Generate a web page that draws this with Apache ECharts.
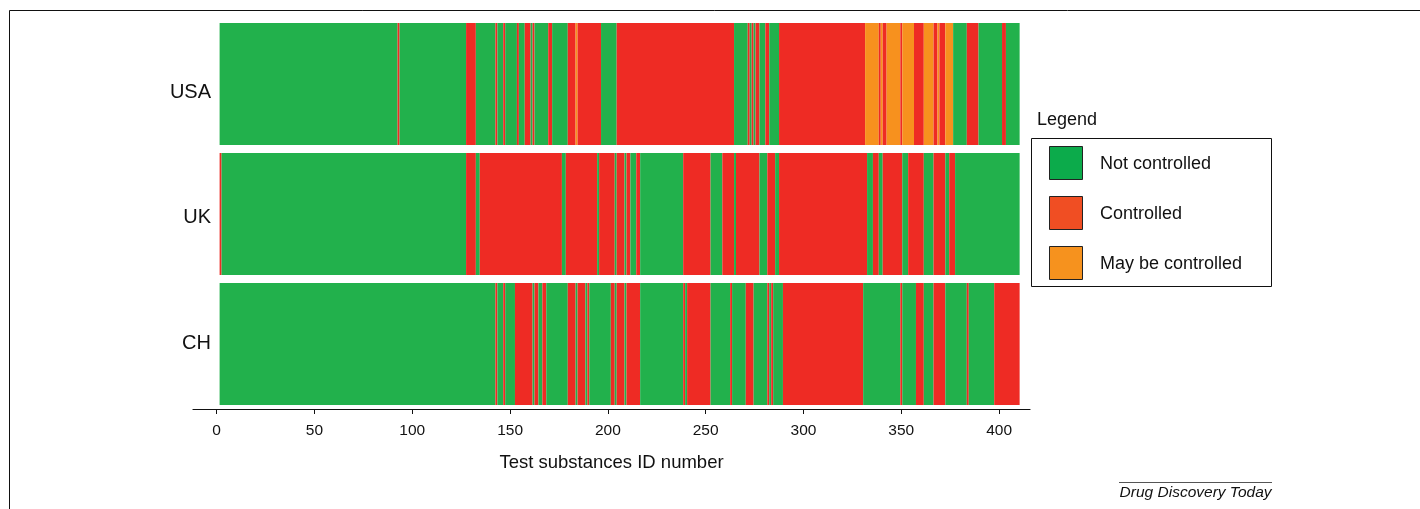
<!DOCTYPE html>
<html><head><meta charset="utf-8">
<script src="https://cdn.jsdelivr.net/npm/echarts@6/dist/echarts.min.js"></script>
<style>html,body{margin:0;padding:0;background:#fff}#c{width:1420px;height:509px}</style>
</head><body><div id="c"></div>
<script>
// Row labels (top to bottom)
const countries = ['USA', 'UK', 'CH'];
// Status categories: 0 = Not controlled, 1 = Controlled, 2 = May be controlled
const statusNames = ['Not controlled', 'Controlled', 'May be controlled'];
const xTicks = [0, 50, 100, 150, 200, 250, 300, 350, 400];

// Runs of consecutive substance IDs sharing a status: [firstId, lastId, status]
const usaRuns = [
  [2,92,0],[93,93,1],[94,127,0],[128,132,1],[133,142,0],[143,143,1],[144,146,0],[147,147,1],
  [148,153,0],[154,154,1],[155,157,0],[158,160,1],[161,161,0],[162,162,1],[163,169,0],[170,171,1],
  [172,179,0],[180,183,1],[184,184,2],[185,196,1],[197,204,0],[205,264,1],[265,271,0],[272,272,1],
  [273,273,0],[274,274,1],[275,275,0],[276,277,1],[278,280,0],[281,282,1],[283,287,0],[288,331,1],
  [332,338,2],[339,339,1],[340,340,2],[341,342,1],[343,349,2],[350,350,1],[351,356,2],[357,361,1],
  [362,366,2],[367,368,1],[369,369,2],[370,372,1],[373,376,2],[377,383,0],[384,389,1],[390,401,0],
  [402,403,1],[404,410,0]
];
const ukRuns = [
  [2,2,1],[3,127,0],[128,132,1],[133,134,0],[135,176,1],[177,178,0],[179,194,1],[195,195,0],
  [196,203,1],[204,204,0],[205,208,1],[209,209,0],[210,211,1],[212,214,0],[215,216,1],[217,238,0],
  [239,252,1],[253,258,0],[259,264,1],[265,265,0],[266,277,1],[278,281,0],[282,285,1],[286,287,0],
  [288,332,1],[333,335,0],[336,338,1],[339,340,0],[341,350,1],[351,353,0],[354,361,1],[362,366,0],
  [367,372,1],[373,374,0],[375,377,1],[378,410,0]
];
const chRuns = [
  [2,142,0],[143,143,1],[144,146,0],[147,147,1],[148,152,0],[153,161,1],[162,162,0],[163,164,1],
  [165,166,0],[167,168,1],[169,179,0],[180,183,1],[184,184,0],[185,188,1],[189,189,0],[190,190,1],
  [191,201,0],[202,203,1],[204,204,0],[205,208,1],[209,209,0],[210,216,1],[217,238,0],[239,239,1],
  [240,240,0],[241,252,1],[253,262,0],[263,263,1],[264,270,0],[271,274,1],[275,281,0],[282,282,1],
  [283,283,0],[284,284,1],[285,289,0],[290,330,1],[331,349,0],[350,350,1],[351,357,0],[358,361,1],
  [362,366,0],[367,372,1],[373,383,0],[384,384,1],[385,397,0],[398,410,1]
];

const barColors = ['#22b14c', '#ee2b24', '#f7911e'];
const swatchColors = ['#0cab4b', '#f04e23', '#f6921e'];
const FONT = 'Liberation Sans, Arial, Helvetica, sans-serif';

const runsByRow = [usaRuns, ukRuns, chRuns];
const data = [];
runsByRow.forEach((runs, row) => runs.forEach(r => data.push([r[0], r[1], row, r[2]])));

const chart = echarts.init(document.getElementById('c'), null, {renderer: 'canvas'});

const legendGraphics = [
  {type: 'text', left: 1037, top: 111, style: {text: 'Legend', font: '18px ' + FONT, fill: '#111'}},
  {type: 'rect', shape: {x: 1031.5, y: 138.5, width: 240, height: 148}, style: {fill: 'none', stroke: '#111', lineWidth: 1}}
];
statusNames.forEach((name, i) => {
  const y = 146.5 + i * 50;
  legendGraphics.push({type: 'rect', shape: {x: 1049.5, y: y, width: 33, height: 33},
    style: {fill: swatchColors[i], stroke: '#222', lineWidth: 1}});
  legendGraphics.push({type: 'text', x: 1100, y: y + 18, style: {text: name, font: '18px ' + FONT, fill: '#111', textVerticalAlign: 'middle'}});
});

chart.setOption({
  animation: false,
  backgroundColor: '#fff',
  grid: {left: 193, top: 19, width: 837, height: 390, containLabel: false},
  xAxis: {
    type: 'value', min: -12.1, max: 415.8,
    axisLine: {show: true, lineStyle: {color: '#111', width: 1.2}},
    axisTick: {show: true, customValues: xTicks, length: 5, lineStyle: {color: '#111'}},
    axisLabel: {customValues: xTicks, fontSize: 15.5, color: '#111', margin: 14, fontFamily: FONT},
    splitLine: {show: false},
    name: 'Test substances ID number', nameLocation: 'middle', nameGap: 44,
    nameTextStyle: {fontSize: 18.5, color: '#111', fontFamily: FONT}
  },
  yAxis: {
    type: 'category', data: countries, inverse: true,
    axisLine: {show: false}, axisTick: {show: false},
    axisLabel: {
      margin: -18,
      formatter: function (v) { return '{' + v.toLowerCase() + '|' + v + '}'; },
      rich: {
        usa: {fontSize: 20, color: '#111', fontFamily: FONT, padding: [16, 0, 0, 0]},
        uk: {fontSize: 20, color: '#111', fontFamily: FONT, padding: [7, 0, 0, 0]},
        ch: {fontSize: 20, color: '#111', fontFamily: FONT, padding: [0, 0, 2, 0]}
      }
    },
    splitLine: {show: false}
  },
  series: [{
    type: 'custom',
    encode: {x: [0, 1], y: 2},
    data: data,
    renderItem: function (params, api) {
      const s = api.value(0), e = api.value(1), r = api.value(2), st = api.value(3);
      const p0 = api.coord([s - 0.5, r]);
      const p1 = api.coord([e + 0.5, r]);
      const bh = api.size([0, 1])[1] * 122 / 130;
      return {type: 'rect', shape: {x: p0[0], y: p0[1] - bh / 2, width: p1[0] - p0[0], height: bh},
        style: {fill: barColors[st]}};
    }
  }],
  graphic: [
    {type: 'line', shape: {x1: 9.5, y1: 10.5, x2: 1420, y2: 10.5}, style: {stroke: '#111', lineWidth: 1}},
    {type: 'line', shape: {x1: 9.5, y1: 10.5, x2: 9.5, y2: 509}, style: {stroke: '#111', lineWidth: 1}},
    {type: 'line', shape: {x1: 1119, y1: 482.5, x2: 1272, y2: 482.5}, style: {stroke: '#555', lineWidth: 1}},
    {type: 'text', x: 1271.5, y: 493, style: {text: 'Drug Discovery Today', font: 'italic 15.5px ' + FONT, fill: '#111', textAlign: 'right', textVerticalAlign: 'middle'}}
  ].concat(legendGraphics)
});
</script></body></html>
